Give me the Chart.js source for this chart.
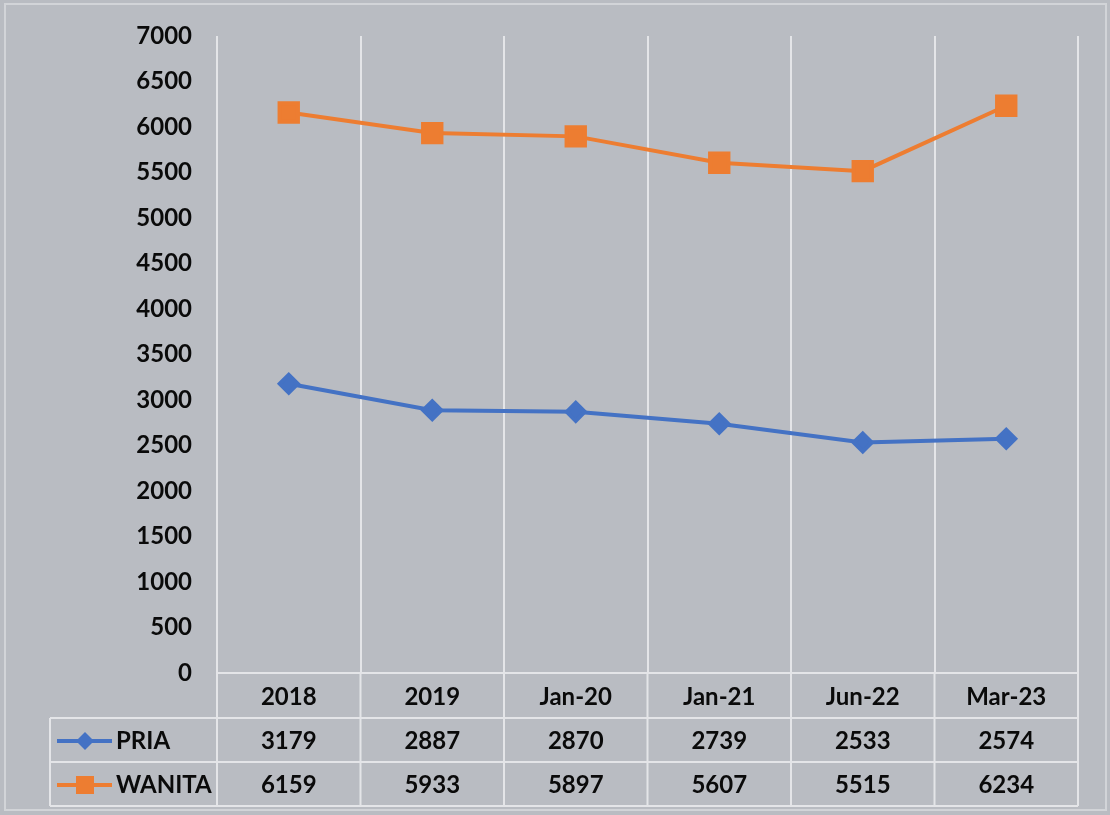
<!DOCTYPE html>
<html>
<head>
<meta charset="utf-8">
<script src="https://cdn.jsdelivr.net/npm/chart.js@4.4.1/dist/chart.umd.min.js"></script>
<style>
  html, body { margin: 0; padding: 0; background: #ffffff; }
  #wrap { width: 1110px; height: 815px; }
</style>
</head>
<body>
<div id="wrap"><canvas id="chart" width="1110" height="815"></canvas></div>
<script>
const categories = ['2018', '2019', 'Jan-20', 'Jan-21', 'Jun-22', 'Mar-23']
const pria = [3179, 2887, 2870, 2739, 2533, 2574]
const wanita = [6159, 5933, 5897, 5607, 5515, 6234]
const seriesNames = ['PRIA', 'WANITA']

const bg = '#b9bcc2'
const lineCol = '#e4e5e8'
const font = 'Lato, "Open Sans", sans-serif'
const fontSize = 24

// background + frame
const bgPlugin = {
  id: 'bg',
  beforeDraw(chart) {
    const ctx = chart.ctx
    ctx.save()
    ctx.fillStyle = bg
    ctx.fillRect(0, 0, chart.width, chart.height)
    ctx.strokeStyle = '#d2d4d8'
    ctx.lineWidth = 2
    ctx.strokeRect(5, 4, chart.width - 9, chart.height - 9)
    ctx.restore()
  }
}

// data table under the x axis
const tablePlugin = {
  id: 'dataTable',
  afterDraw(chart) {
    const ctx = chart.ctx
    const x = chart.scales.x
    const area = chart.chartArea
    const rowH = 44
    const top = area.bottom
    const tableLeft = 50
    const half = (x.getPixelForValue(1) - x.getPixelForValue(0)) / 2
    const rowsTop = top + 45
    const bottom = rowsTop + rowH * 2
    ctx.save()
    ctx.strokeStyle = lineCol
    ctx.lineWidth = 2
    // vertical lines through table
    ctx.beginPath()
    for (let i = 0; i <= categories.length; i++) {
      const px = x.getPixelForValue(0) - half + i * half * 2
      ctx.moveTo(px, top)
      ctx.lineTo(px, bottom)
    }
    ctx.moveTo(tableLeft, rowsTop)
    ctx.lineTo(tableLeft, bottom)
    // horizontal lines
    ctx.moveTo(area.left, top)
    ctx.lineTo(area.right, top)
    for (let r = 0; r <= 2; r++) {
      ctx.moveTo(tableLeft, rowsTop + r * rowH)
      ctx.lineTo(area.right, rowsTop + r * rowH)
    }
    ctx.stroke()

    ctx.font = 'bold ' + fontSize + 'px ' + font
    ctx.fillStyle = '#0a0a0a'
    ctx.textBaseline = 'middle'
    const rows = [pria, wanita]
    rows.forEach((vals, r) => {
      const cy = rowsTop + r * rowH + rowH / 2 + 1
      ctx.textAlign = 'center'
      vals.forEach((v, i) => {
        ctx.fillText(String(v), x.getPixelForValue(i), cy)
      })
      // legend key
      const ds = chart.data.datasets[r]
      ctx.strokeStyle = ds.borderColor
      ctx.lineWidth = 4
      ctx.beginPath()
      ctx.moveTo(57, cy)
      ctx.lineTo(112, cy)
      ctx.stroke()
      ctx.fillStyle = ds.backgroundColor
      ctx.beginPath()
      if (ds.pointStyle === 'rectRot') {
        ctx.moveTo(85, cy - 9)
        ctx.lineTo(94, cy)
        ctx.lineTo(85, cy + 9)
        ctx.lineTo(76, cy)
      } else {
        ctx.rect(76, cy - 9, 18, 18)
      }
      ctx.closePath()
      ctx.fill()
      ctx.fillStyle = '#0a0a0a'
      ctx.textAlign = 'left'
      ctx.fillText(seriesNames[r], 116, cy)
    })
    ctx.restore()
  }
}

new Chart('chart', {
  type: 'line',
  data: {
    labels: categories,
    datasets: [{
      label: seriesNames[0],
      data: pria,
      borderColor: '#4472c4',
      backgroundColor: '#4472c4',
      borderWidth: 4,
      pointStyle: 'rectRot',
      pointRadius: 9,
      pointHoverRadius: 9,
      tension: 0
    }, {
      label: seriesNames[1],
      data: wanita,
      borderColor: '#ed7d31',
      backgroundColor: '#ed7d31',
      borderWidth: 4,
      pointStyle: 'rect',
      pointRadius: 13,
      pointHoverRadius: 13,
      tension: 0
    }]
  },
  options: {
    responsive: false,
    animation: false,
    layout: {
      padding: { left: 0, top: 36, right: 32, bottom: 97 }
    },
    plugins: {
      legend: { display: false },
      tooltip: { enabled: false }
    },
    scales: {
      x: {
        offset: true,
        grid: {
          offset: true,
          color: lineCol,
          lineWidth: 2,
          drawTicks: false
        },
        border: { display: false },
        ticks: {
          color: '#0a0a0a',
          font: { family: font, size: fontSize, weight: 'bold' },
          padding: 10
        },
        afterFit(scale) { scale.height = 45 }
      },
      y: {
        min: 0,
        max: 7000,
        grid: { display: false, drawTicks: false },
        border: { display: false },
        ticks: {
          stepSize: 500,
          color: '#0a0a0a',
          font: { family: font, size: fontSize, weight: 'bold' },
          padding: 25,
          callback: v => String(v)
        },
        afterFit(scale) {
          scale.width = 217
          scale.paddingTop = 14
          scale.paddingBottom = 14
        }
      }
    }
  },
  plugins: [bgPlugin, tablePlugin]
})
</script>
</body>
</html>
